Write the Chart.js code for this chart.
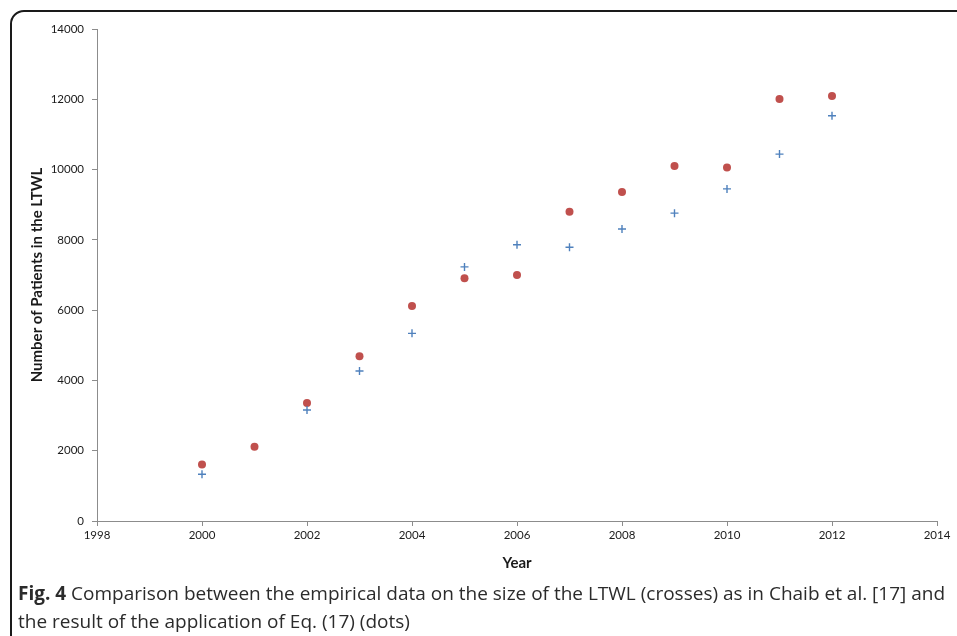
<!DOCTYPE html>
<html>
<head>
<meta charset="utf-8">
<script src="https://cdn.jsdelivr.net/npm/chart.js@4/dist/chart.umd.min.js"></script>
<style>
	body { margin: 0; background: #fff; overflow: hidden; }
	#wrap { position: relative; width: 957px; height: 636px; overflow: hidden; }
	#frame { position: absolute; left: 10px; top: 10px; width: 1000px; height: 700px; border: 2px solid #1a1a1a; border-radius: 14px; box-sizing: border-box; }
	#box { position: absolute; left: 0; top: 0; width: 957px; height: 580px; }
	#caption { position: absolute; left: 18px; top: 579px; font-family: "Open Sans", sans-serif; font-size: 19px; line-height: 28px; color: #2b2b2b; white-space: nowrap; }
	#caption b { font-weight: 700; }
</style>
</head>
<body>
<div id="wrap">
	<div id="frame"></div>
	<div id="box"><canvas id="grPatients"></canvas></div>
	<div id="caption"><b>Fig. 4</b> Comparison between the empirical data on the size of the LTWL (crosses) as in Chaib et al. [17] and<br>the result of the application of Eq. (17) (dots)</div>
</div>
<script>
// years and the two series
var years = [2000, 2001, 2002, 2003, 2004, 2005, 2006, 2007, 2008, 2009, 2010, 2011, 2012];
var crosses = [1330, null, 3160, 4270, 5340, 7230, 7860, 7790, 8310, 8760, 9450, 10440, 11530];
var dots = [1610, 2110, 3360, 4690, 6120, 6910, 7000, 8800, 9360, 10100, 10060, 12010, 12090];

var xMin = 1998, xMax = 2014, xStep = 2;
var yMin = 0, yMax = 14000, yStep = 2000;

function toPoints(vals) {
	var pts = [];
	for (var i = 0; i < years.length; i++) {
		if (vals[i] !== null) pts.push({x: years[i], y: vals[i]});
	}
	return pts;
}

var axisColor = '#8c8c8c';
var tickFont = {family: 'Lato, "Open Sans", sans-serif', size: 11.5};

var config = {
	type: 'scatter',
	data: {
		datasets: [{
			label: 'Empirical (crosses)',
			data: toPoints(crosses),
			pointStyle: 'cross',
			pointRadius: 4,
			borderColor: '#4f81bd',
			backgroundColor: '#4f81bd',
			pointBorderWidth: 1.4
		}, {
			label: 'Eq. (17) (dots)',
			data: toPoints(dots),
			pointStyle: 'circle',
			pointRadius: 4,
			borderColor: '#c0504d',
			backgroundColor: '#c0504d',
			pointBorderWidth: 0
		}]
	},
	options: {
		responsive: true,
		maintainAspectRatio: false,
		animation: false,
		layout: {padding: {top: 29, right: 20, left: 0, bottom: 0}},
		plugins: {legend: {display: false}, tooltip: {enabled: false}},
		scales: {
			x: {
				type: 'linear',
				min: xMin, max: xMax,
				afterFit: function(s) { s.height = 59; },
				ticks: {stepSize: xStep, color: '#1a1a1a', font: tickFont, padding: 2,
					callback: function(v) { return String(v); }},
				grid: {drawOnChartArea: false, color: axisColor, tickLength: 5},
				border: {color: axisColor, width: 1},
				title: {display: true, text: 'Year', color: '#1a1a1a',
					font: {family: 'Lato, "Open Sans", sans-serif', size: 15, weight: 'bold'},
					padding: {top: 4, bottom: 8}}
			},
			y: {
				min: yMin, max: yMax,
				afterFit: function(s) { s.width = 97; },
				ticks: {stepSize: yStep, color: '#1a1a1a', font: tickFont, padding: 8,
					callback: function(v) { return String(v); }},
				grid: {drawOnChartArea: false, color: axisColor, tickLength: 5},
				border: {color: axisColor, width: 1},
				title: {display: true, text: 'Number of Patients in the LTWL', color: '#1a1a1a',
					font: {family: 'Lato, "Open Sans", sans-serif', size: 15, weight: 'bold'},
					padding: {top: 28, bottom: 4}}
			}
		}
	}
};

var ctx = document.getElementById('grPatients').getContext('2d');
window.myScatter = new Chart(ctx, config);
</script>
</body>
</html>
